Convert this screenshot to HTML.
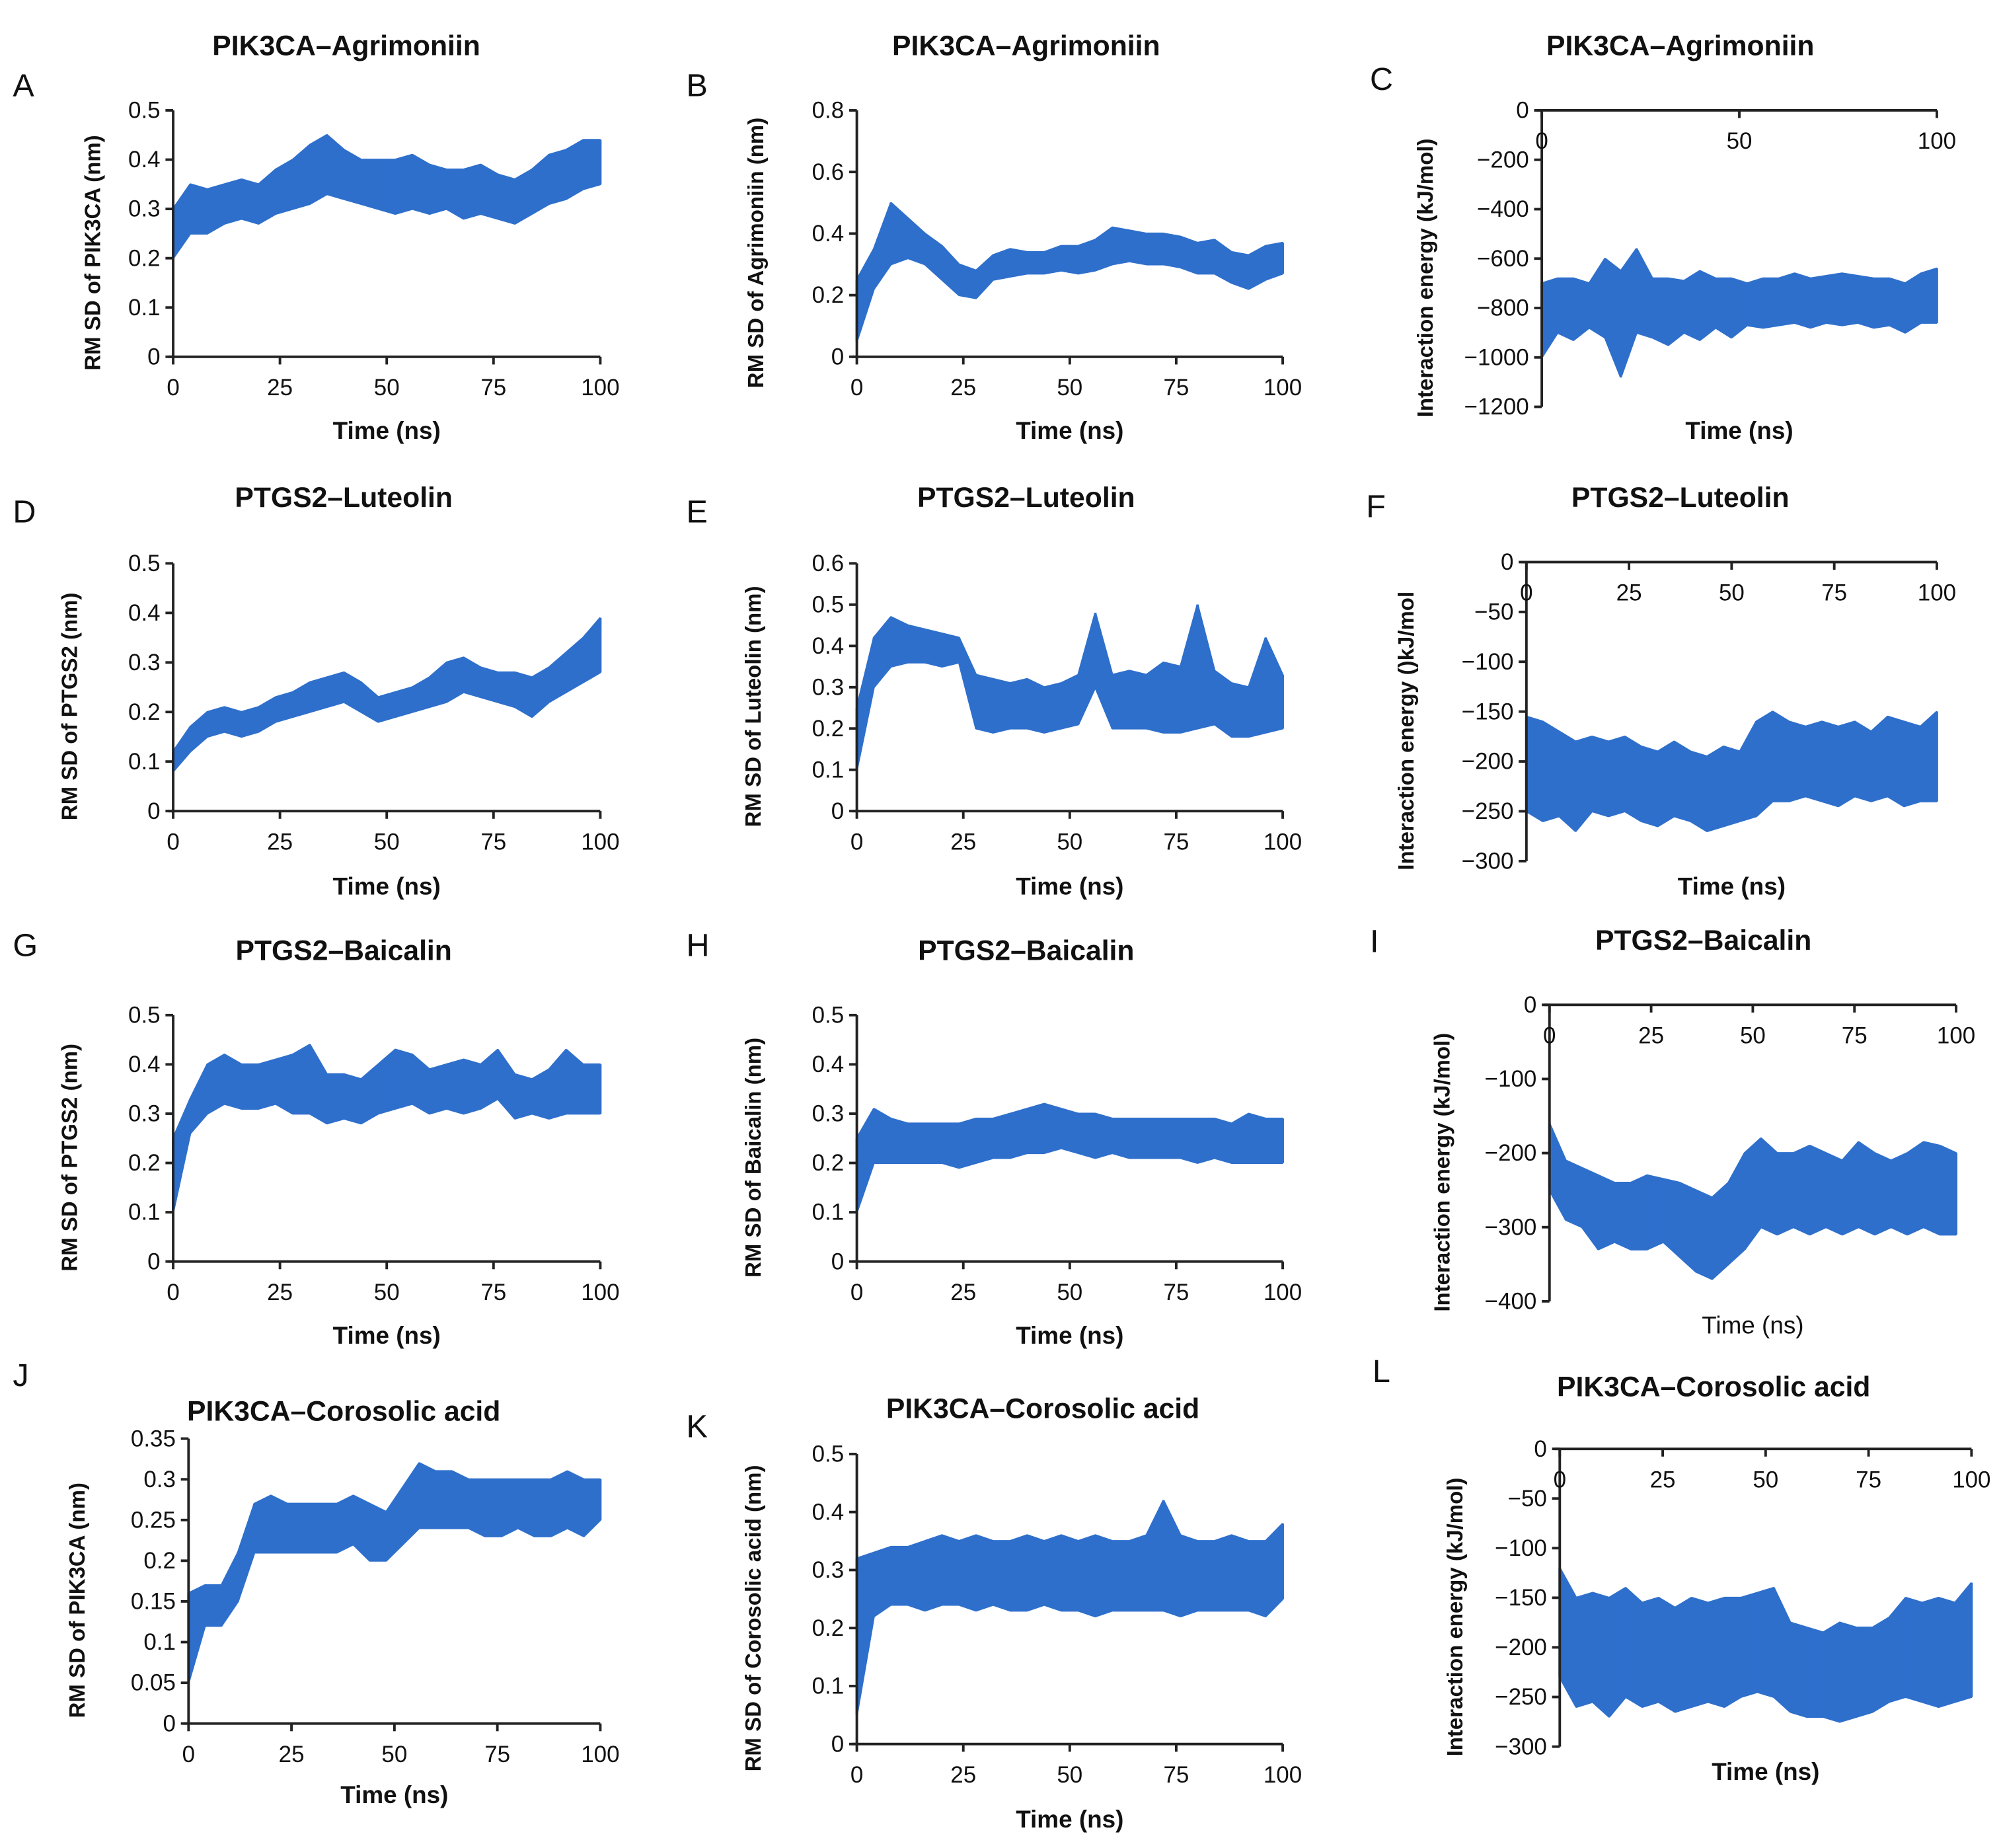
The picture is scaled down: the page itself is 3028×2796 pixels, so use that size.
<!DOCTYPE html>
<html><head><meta charset="utf-8">
<style>
html,body{margin:0;padding:0;background:#fff;}
svg{display:block;}
text{font-family:"Liberation Sans",sans-serif;fill:#111;}
</style></head>
<body>
<svg id="fig" width="3028" height="2796" viewBox="0 0 1560 1440" preserveAspectRatio="none" xmlns="http://www.w3.org/2000/svg"></svg>
<script>
const timeNs = [0,4,8,12,16,20,24,28,32,36,40,44,48,52,56,60,64,68,72,76,80,84,88,92,96,100];

const aLo=[0.2,0.25,0.25,0.27,0.28,0.27,0.29,0.30,0.31,0.33,0.32,0.31,0.30,0.29,0.30,0.29,0.30,0.28,0.29,0.28,0.27,0.29,0.31,0.32,0.34,0.35];
const aHi=[0.3,0.35,0.34,0.35,0.36,0.35,0.38,0.40,0.43,0.45,0.42,0.40,0.40,0.40,0.41,0.39,0.38,0.38,0.39,0.37,0.36,0.38,0.41,0.42,0.44,0.44];
const bLo=[0.05,0.22,0.30,0.32,0.30,0.25,0.20,0.19,0.25,0.26,0.27,0.27,0.28,0.27,0.28,0.30,0.31,0.30,0.30,0.29,0.27,0.27,0.24,0.22,0.25,0.27];
const bHi=[0.25,0.35,0.50,0.45,0.40,0.36,0.30,0.28,0.33,0.35,0.34,0.34,0.36,0.36,0.38,0.42,0.41,0.40,0.40,0.39,0.37,0.38,0.34,0.33,0.36,0.37];
const cLo=[-1000,-900,-930,-880,-920,-1080,-900,-920,-950,-900,-930,-880,-920,-870,-880,-870,-860,-880,-860,-870,-860,-880,-870,-900,-860,-860];
const cHi=[-700,-680,-680,-700,-600,-650,-560,-680,-680,-690,-650,-680,-680,-700,-680,-680,-660,-680,-670,-660,-670,-680,-680,-700,-660,-640];
const dLo=[0.08,0.12,0.15,0.16,0.15,0.16,0.18,0.19,0.20,0.21,0.22,0.20,0.18,0.19,0.20,0.21,0.22,0.24,0.23,0.22,0.21,0.19,0.22,0.24,0.26,0.28];
const dHi=[0.12,0.17,0.20,0.21,0.20,0.21,0.23,0.24,0.26,0.27,0.28,0.26,0.23,0.24,0.25,0.27,0.30,0.31,0.29,0.28,0.28,0.27,0.29,0.32,0.35,0.39];
const eLo=[0.1,0.30,0.35,0.36,0.36,0.35,0.36,0.20,0.19,0.20,0.20,0.19,0.20,0.21,0.30,0.20,0.20,0.20,0.19,0.19,0.20,0.21,0.18,0.18,0.19,0.20];
const eHi=[0.25,0.42,0.47,0.45,0.44,0.43,0.42,0.33,0.32,0.31,0.32,0.30,0.31,0.33,0.48,0.33,0.34,0.33,0.36,0.35,0.50,0.34,0.31,0.30,0.42,0.33];
const fLo=[-250,-260,-255,-270,-250,-255,-250,-260,-265,-255,-260,-270,-265,-260,-255,-240,-240,-235,-240,-245,-235,-240,-235,-245,-240,-240];
const fHi=[-155,-160,-170,-180,-175,-180,-175,-185,-190,-180,-190,-195,-185,-190,-160,-150,-160,-165,-160,-165,-160,-170,-155,-160,-165,-150];
const gLo=[0.1,0.26,0.30,0.32,0.31,0.31,0.32,0.30,0.30,0.28,0.29,0.28,0.30,0.31,0.32,0.30,0.31,0.30,0.31,0.33,0.29,0.30,0.29,0.30,0.30,0.30];
const gHi=[0.25,0.33,0.40,0.42,0.40,0.40,0.41,0.42,0.44,0.38,0.38,0.37,0.40,0.43,0.42,0.39,0.40,0.41,0.40,0.43,0.38,0.37,0.39,0.43,0.40,0.40];
const hLo=[0.1,0.20,0.20,0.20,0.20,0.20,0.19,0.20,0.21,0.21,0.22,0.22,0.23,0.22,0.21,0.22,0.21,0.21,0.21,0.21,0.20,0.21,0.20,0.20,0.20,0.20];
const hHi=[0.25,0.31,0.29,0.28,0.28,0.28,0.28,0.29,0.29,0.30,0.31,0.32,0.31,0.30,0.30,0.29,0.29,0.29,0.29,0.29,0.29,0.29,0.28,0.30,0.29,0.29];
const iLo=[-250,-290,-300,-330,-320,-330,-330,-320,-340,-360,-370,-350,-330,-300,-310,-300,-310,-300,-310,-300,-310,-300,-310,-300,-310,-310];
const iHi=[-160,-210,-220,-230,-240,-240,-230,-235,-240,-250,-260,-240,-200,-180,-200,-200,-190,-200,-210,-185,-200,-210,-200,-185,-190,-200];
const jLo=[0.05,0.12,0.12,0.15,0.21,0.21,0.21,0.21,0.21,0.21,0.22,0.20,0.20,0.22,0.24,0.24,0.24,0.24,0.23,0.23,0.24,0.23,0.23,0.24,0.23,0.25];
const jHi=[0.16,0.17,0.17,0.21,0.27,0.28,0.27,0.27,0.27,0.27,0.28,0.27,0.26,0.29,0.32,0.31,0.31,0.30,0.30,0.30,0.30,0.30,0.30,0.31,0.30,0.30];
const kLo=[0.05,0.22,0.24,0.24,0.23,0.24,0.24,0.23,0.24,0.23,0.23,0.24,0.23,0.23,0.22,0.23,0.23,0.23,0.23,0.22,0.23,0.23,0.23,0.23,0.22,0.25];
const kHi=[0.32,0.33,0.34,0.34,0.35,0.36,0.35,0.36,0.35,0.35,0.36,0.35,0.36,0.35,0.36,0.35,0.35,0.36,0.42,0.36,0.35,0.35,0.36,0.35,0.35,0.38];
const lLo=[-230,-260,-255,-270,-250,-260,-255,-265,-260,-255,-260,-250,-245,-250,-265,-270,-270,-275,-270,-265,-255,-250,-255,-260,-255,-250];
const lHi=[-120,-150,-145,-150,-140,-155,-150,-160,-150,-155,-150,-150,-145,-140,-175,-180,-185,-175,-180,-180,-170,-150,-155,-150,-155,-135];

const ticksX4=[0,25,50,75,100];
const ticksX2=[0,50,100];
const ticksY05=[0,0.1,0.2,0.3,0.4,0.5];
const ticksY08=[0,0.2,0.4,0.6,0.8];
const ticksY06=[0,0.1,0.2,0.3,0.4,0.5,0.6];
const ticksY035=[0,0.05,0.1,0.15,0.2,0.25,0.3,0.35];
const ticksE1200=[0,-200,-400,-600,-800,-1000,-1200];
const ticksE300=[0,-50,-100,-150,-200,-250,-300];
const ticksE400=[0,-100,-200,-300,-400];

const NS='http://www.w3.org/2000/svg';
const svg=document.getElementById('fig');
function mk(tag,attrs,parent,txt){
  const e=document.createElementNS(NS,tag);
  for(const k in attrs)e.setAttribute(k,attrs[k]);
  if(txt!==undefined)e.textContent=txt;
  (parent||svg).appendChild(e);return e;
}
const panels=[
 {id:'a',L:'A',lx:10,ly:75,title:'PIK3CA–Agrimoniin',tx:270,ty:43,x0:135,x1:468,yT:86,yB:278,lo:aLo,hi:aHi,yt:ticksY05,xt:ticksX4,top:false,ylab:'RM SD of PIK3CA (nm)',ylx:78,xlabY:342},
 {id:'b',L:'B',lx:535,ly:75,title:'PIK3CA–Agrimoniin',tx:800,ty:43,x0:668,x1:1000,yT:86,yB:278,lo:bLo,hi:bHi,yt:ticksY08,xt:ticksX4,top:false,ylab:'RM SD of Agrimoniin (nm)',ylx:595,xlabY:342},
 {id:'c',L:'C',lx:1068,ly:70,title:'PIK3CA–Agrimoniin',tx:1310,ty:43,x0:1202,x1:1510,yT:86,yB:317,lo:cLo,hi:cHi,yt:ticksE1200,xt:ticksX2,top:true,ylab:'Interaction energy (kJ/mol)',ylx:1117,xlabY:342},
 {id:'d',L:'D',lx:10,ly:407,title:'PTGS2–Luteolin',tx:268,ty:395,x0:135,x1:468,yT:439,yB:632,lo:dLo,hi:dHi,yt:ticksY05,xt:ticksX4,top:false,ylab:'RM SD of PTGS2 (nm)',ylx:60,xlabY:697},
 {id:'e',L:'E',lx:535,ly:407,title:'PTGS2–Luteolin',tx:800,ty:395,x0:668,x1:1000,yT:439,yB:632,lo:eLo,hi:eHi,yt:ticksY06,xt:ticksX4,top:false,ylab:'RM SD of Luteolin (nm)',ylx:593,xlabY:697},
 {id:'f',L:'F',lx:1065,ly:403,title:'PTGS2–Luteolin',tx:1310,ty:395,x0:1190,x1:1510,yT:438,yB:671,lo:fLo,hi:fHi,yt:ticksE300,xt:ticksX4,top:true,ylab:'Interaction energy ()kJ/mol',ylx:1102,xlabY:697},
 {id:'g',L:'G',lx:10,ly:745,title:'PTGS2–Baicalin',tx:268,ty:748,x0:135,x1:468,yT:791,yB:983,lo:gLo,hi:gHi,yt:ticksY05,xt:ticksX4,top:false,ylab:'RM SD of PTGS2 (nm)',ylx:60,xlabY:1047},
 {id:'h',L:'H',lx:535,ly:745,title:'PTGS2–Baicalin',tx:800,ty:748,x0:668,x1:1000,yT:791,yB:983,lo:hLo,hi:hHi,yt:ticksY05,xt:ticksX4,top:false,ylab:'RM SD of Baicalin (nm)',ylx:593,xlabY:1047},
 {id:'i',L:'I',lx:1068,ly:742,title:'PTGS2–Baicalin',tx:1328,ty:740,x0:1208,x1:1525,yT:783,yB:1014,lo:iLo,hi:iHi,yt:ticksE400,xt:ticksX4,top:true,ylab:'Interaction energy (kJ/mol)',ylx:1130,xlabY:1039},
 {id:'j',L:'J',lx:10,ly:1080,title:'PIK3CA–Corosolic acid',tx:268,ty:1107,x0:147,x1:468,yT:1121,yB:1343,lo:jLo,hi:jHi,yt:ticksY035,xt:ticksX4,top:false,ylab:'RM SD of PIK3CA (nm)',ylx:66,xlabY:1405},
 {id:'k',L:'K',lx:535,ly:1120,title:'PIK3CA–Corosolic acid',tx:813,ty:1105,x0:668,x1:1000,yT:1133,yB:1359,lo:kLo,hi:kHi,yt:ticksY05,xt:ticksX4,top:false,ylab:'RM SD of Corosolic acid (nm)',ylx:593,xlabY:1424},
 {id:'l',L:'L',lx:1070,ly:1077,title:'PIK3CA–Corosolic acid',tx:1336,ty:1088,x0:1216,x1:1537,yT:1129,yB:1361,lo:lLo,hi:lHi,yt:ticksE300,xt:ticksX4,top:true,ylab:'Interaction energy (kJ/mol)',ylx:1140,xlabY:1387}
];
panels.forEach(p=>{
  const g=mk('g',{});
  
  
  const ymin=Math.min(...p.yt), ymax=Math.max(...p.yt);
  const X=t=>p.x0+(t-0)/(100-0)*(p.x1-p.x0);
  const Y=v=>p.yB-(v-ymin)/(ymax-ymin)*(p.yB-p.yT);
  const lt=mk('text',{x:p.lx,y:p.ly,'font-size':25},g,p.L);
  
  
  const tt=mk('text',{x:p.tx,y:p.ty,'font-size':22,'font-weight':'bold','text-anchor':'middle'},g,p.title);
  
  
  // band
  let pts=p.hi.map((v,i)=>X(timeNs[i])+','+Y(v));
  for(let i=p.lo.length-1;i>=0;i--)pts.push(X(timeNs[i])+','+Y(p.lo[i]));
  const band=mk('polygon',{points:pts.join(' '),fill:'#2e6fcc',stroke:'#2e6fcc','stroke-width':1.5,'stroke-linejoin':'bevel'},g);
  
  
  p.lo.forEach((v,i)=>{
    const s=mk('line',{x1:X(timeNs[i]),x2:X(timeNs[i]),y1:Y(v),y2:Y(p.hi[i]),stroke:'#2e6fcc','stroke-width':2},g);
    
    
  });
  // axes
  const xAxisY=p.top?Y(0):p.yB;
  const xa=mk('line',{x1:p.x0-4,x2:p.x1,y1:xAxisY,y2:xAxisY,stroke:'#222','stroke-width':2},g);
  
  
  const ya=mk('line',{x1:p.x0,x2:p.x0,y1:p.yT,y2:p.yB,stroke:'#222','stroke-width':2},g);
  
  
  p.xt.forEach(t=>{
    mk('line',{x1:X(t),x2:X(t),y1:xAxisY,y2:xAxisY+6,stroke:'#222','stroke-width':2},g);
    const tl=mk('text',{x:X(t),y:xAxisY+(p.top?30:30),'font-size':18,'text-anchor':'middle'},g,String(t));
    
    
  });
  p.yt.forEach(v=>{
    mk('line',{x1:p.x0-6,x2:p.x0,y1:Y(v),y2:Y(v),stroke:'#222','stroke-width':2},g);
    const tl=mk('text',{x:p.x0-10,y:Y(v)+6,'font-size':18,'text-anchor':'end'},g,v<0?'−'+Math.abs(v):String(v));
    
    
  });
  const xl=mk('text',{x:(p.x0+p.x1)/2,y:p.xlabY,'font-size':19,'font-weight':p.id==='i'?'normal':'bold','text-anchor':'middle'},g,'Time (ns)');
  
  
  const cy=(p.yT+p.yB)/2+15;
  const yl=mk('text',{x:p.ylx,y:cy,'font-size':17,'font-weight':'bold','text-anchor':'middle',transform:'rotate(-90 '+p.ylx+' '+cy+')'},g,p.ylab);
  
  
});
</script>
</body></html>
